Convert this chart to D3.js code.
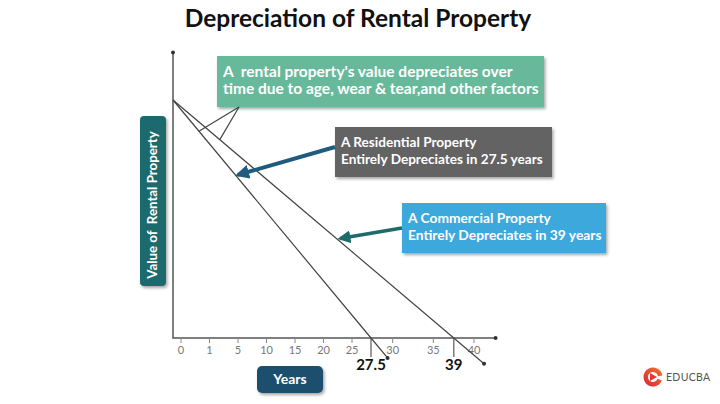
<!DOCTYPE html>
<html>
<head>
<meta charset="utf-8">
<script src="https://cdn.jsdelivr.net/npm/d3@7"></script>
<style>
  body { margin: 0; background: #fff; }
  svg { display: block; font-family: Lato, "Open Sans", sans-serif; }
</style>
</head>
<body>
<svg id="chart" width="720" height="404"></svg>
<script>
// Data.
var TICK_LABELS = ['0', '1', '5', '10', '15', '20', '25', '30', '35', '40'];
var RESIDENTIAL = [[0, 100], [27.5, 0], [29.8, -8.4]];   // [year, value %]
var COMMERCIAL = [[0, 100], [39, 0], [43.2, -10.8]];
var MARKERS = [27.5, 39];
var NOTE_LINES = ["A  rental property's value depreciates over",
                  'time due to age, wear & tear,and other factors'];
var RESIDENTIAL_LINES = ['A Residential Property', 'Entirely Depreciates in 27.5 years'];
var COMMERCIAL_LINES = ['A Commercial Property', 'Entirely Depreciates in 39 years'];

var svg = d3.select('#chart');

// Scales.
var x = d3.scaleLinear().domain([0, 40]).range([173, 461]);
var y = d3.scaleLinear().domain([0, 100]).range([338, 100]);
// printed tick labels are not evenly spaced in the drawing
var tickX = d3.scaleLinear().domain([0, 6, 9]).range([181, 352, 474]);

var defs = svg.append('defs');
var shadow = defs.append('filter').attr('id', 'shadow')
  .attr('x', '-10%').attr('y', '-20%').attr('width', '130%').attr('height', '150%');
shadow.append('feDropShadow')
  .attr('dx', 1.5).attr('dy', 2).attr('stdDeviation', 1.5)
  .attr('flood-color', '#000').attr('flood-opacity', 0.35);

var addArrowHead = function(id, color, size) {
  defs.append('marker').attr('id', id)
    .attr('viewBox', '0 0 10 10').attr('refX', 8).attr('refY', 5)
    .attr('markerWidth', size).attr('markerHeight', size)
    .attr('markerUnits', 'userSpaceOnUse')
    .attr('orient', 'auto')
    .append('path').attr('d', 'M0,0 L10,5 L0,10 Z').attr('fill', color);
};
addArrowHead('head-res', '#1f5b7e', 14);
addArrowHead('head-com', '#1d6b6a', 13);

// Title.
svg.append('text')
  .attr('x', 358).attr('y', 27)
  .attr('text-anchor', 'middle')
  .attr('font-size', 24.5).attr('font-weight', 700).attr('fill', '#111')
  .text('Depreciation of Rental Property');

/**
 * Axes
 */
var axisColor = '#555';
svg.append('line')
  .attr('x1', x(0)).attr('x2', x(0))
  .attr('y1', y(0)).attr('y2', y(120))
  .attr('stroke', axisColor).attr('stroke-width', 1.5);
svg.append('circle').attr('cx', x(0)).attr('cy', y(120)).attr('r', 2).attr('fill', '#333');

svg.append('line')
  .attr('x1', x(-0.1)).attr('x2', x(44.8))
  .attr('y1', y(0)).attr('y2', y(0))
  .attr('stroke', axisColor).attr('stroke-width', 1.5);
svg.append('circle').attr('cx', x(44.8)).attr('cy', y(0)).attr('r', 2).attr('fill', '#333');

var ticks = svg.append('g').selectAll('g')
  .data(TICK_LABELS)
  .enter().append('g')
  .attr('transform', function(d, i) { return 'translate(' + tickX(i) + ',' + y(0) + ')'; });
ticks.append('line').attr('y1', 0).attr('y2', 5)
  .attr('stroke', '#888').attr('stroke-width', 1);
ticks.append('text').attr('y', 13)
  .attr('text-anchor', 'middle').attr('dominant-baseline', 'middle')
  .attr('font-size', 11).attr('fill', '#777')
  .text(function(d) { return d; });

var markers = svg.append('g').selectAll('g')
  .data(MARKERS)
  .enter().append('g')
  .attr('transform', function(d) { return 'translate(' + x(d) + ',' + y(0) + ')'; });
markers.append('line').attr('y1', 0).attr('y2', 19)
  .attr('stroke', '#666').attr('stroke-width', 1.3);
markers.append('text').attr('y', 28)
  .attr('text-anchor', 'middle').attr('dominant-baseline', 'middle')
  .attr('font-size', 15).attr('font-weight', 700).attr('fill', '#111')
  .text(function(d) { return d; });

/**
 * Depreciation lines
 */
var line = d3.line()
  .x(function(d) { return x(d[0]); })
  .y(function(d) { return y(d[1]); });

[RESIDENTIAL, COMMERCIAL].forEach(function(series) {
  svg.append('path')
    .attr('d', line(series))
    .attr('fill', 'none').attr('stroke', '#444').attr('stroke-width', 1.2);
  var last = series[series.length - 1];
  svg.append('circle').attr('cx', x(last[0])).attr('cy', y(last[1]))
    .attr('r', 2).attr('fill', '#333');
});

// Value on a straight depreciation line at a given year.
var valueAt = function(series, year) {
  return 100 * (1 - year / series[1][0]);
};

/**
 * Callout boxes
 */
var box = function(x0, y0, w, h, fill, lines, fontSize, lineGap) {
  svg.append('rect')
    .attr('x', x0).attr('y', y0).attr('width', w).attr('height', h)
    .attr('fill', fill).attr('filter', 'url(#shadow)');
  svg.append('g').selectAll('text')
    .data(lines)
    .enter().append('text')
    .attr('x', x0 + 6)
    .attr('y', function(d, i) { return y0 + h / 2 + (i - 0.5) * lineGap; })
    .attr('dominant-baseline', 'middle')
    .attr('xml:space', 'preserve')
    .attr('font-size', fontSize).attr('font-weight', 700).attr('fill', '#fff')
    .text(function(d) { return d; });
};

box(217, 56, 327, 51, '#67b99b', NOTE_LINES, 15.5, 17);
box(335, 127, 217, 50, '#646464', RESIDENTIAL_LINES, 13.6, 17);
box(402, 203, 204, 50, '#3ea8dc', COMMERCIAL_LINES, 13.8, 17);

// Leader lines from the green note to both lines.
[[RESIDENTIAL, 3.6], [COMMERCIAL, 6.5]].forEach(function(p) {
  svg.append('line')
    .attr('x1', 239).attr('y1', 107)
    .attr('x2', x(p[1])).attr('y2', y(valueAt(p[0], p[1])))
    .attr('stroke', '#444').attr('stroke-width', 1.2);
});

// Pointer arrows.
svg.append('line')
  .attr('x1', 335).attr('y1', 147)
  .attr('x2', x(9)).attr('y2', y(valueAt(RESIDENTIAL, 9)) - 3)
  .attr('stroke', '#1f5b7e').attr('stroke-width', 4)
  .attr('marker-end', 'url(#head-res)');
svg.append('line')
  .attr('x1', 402).attr('y1', 228)
  .attr('x2', x(23.2)).attr('y2', y(valueAt(COMMERCIAL, 23.2)) - 3)
  .attr('stroke', '#1d6b6a').attr('stroke-width', 3.5)
  .attr('marker-end', 'url(#head-com)');

/**
 * Axis title badges
 */
svg.append('rect')
  .attr('x', 140).attr('y', 116).attr('width', 26).attr('height', 170).attr('rx', 4)
  .attr('fill', '#1c6a6e').attr('filter', 'url(#shadow)');
svg.append('text')
  .attr('transform', 'translate(154,205) rotate(-90)')
  .attr('text-anchor', 'middle').attr('dominant-baseline', 'middle')
  .attr('font-size', 13.3).attr('font-weight', 700).attr('fill', '#fff')
  .attr('xml:space', 'preserve')
  .text('Value of  Rental Property');

svg.append('rect')
  .attr('x', 257).attr('y', 366).attr('width', 66).attr('height', 27).attr('rx', 5)
  .attr('fill', '#1e4f6e').attr('filter', 'url(#shadow)');
svg.append('text')
  .attr('x', 290).attr('y', 380)
  .attr('text-anchor', 'middle').attr('dominant-baseline', 'middle')
  .attr('font-size', 14).attr('font-weight', 700).attr('fill', '#fff')
  .text('Years');

/**
 * EDUCBA logo
 */
var grad = defs.append('linearGradient').attr('id', 'logo-grad')
  .attr('x1', 0).attr('y1', 1).attr('x2', 1).attr('y2', 0);
grad.append('stop').attr('offset', 0).attr('stop-color', '#d7263d');
grad.append('stop').attr('offset', 1).attr('stop-color', '#f4732a');

var logo = svg.append('g').attr('transform', 'translate(653,377)');
logo.append('path')
  .attr('d', d3.arc().innerRadius(5).outerRadius(9.5)
    .startAngle(Math.PI * 0.62).endAngle(Math.PI * 2.45)())
  .attr('fill', 'url(#logo-grad)');
logo.append('path')
  .attr('d', 'M-3,-4 L4,0 L-3,4 Z')
  .attr('fill', '#e2383a');
svg.append('text')
  .attr('x', 666).attr('y', 378)
  .attr('dominant-baseline', 'middle')
  .attr('font-size', 10.5).attr('fill', '#555')
  .attr('letter-spacing', 0.3)
  .text('EDUCBA');
</script>
</body>
</html>
